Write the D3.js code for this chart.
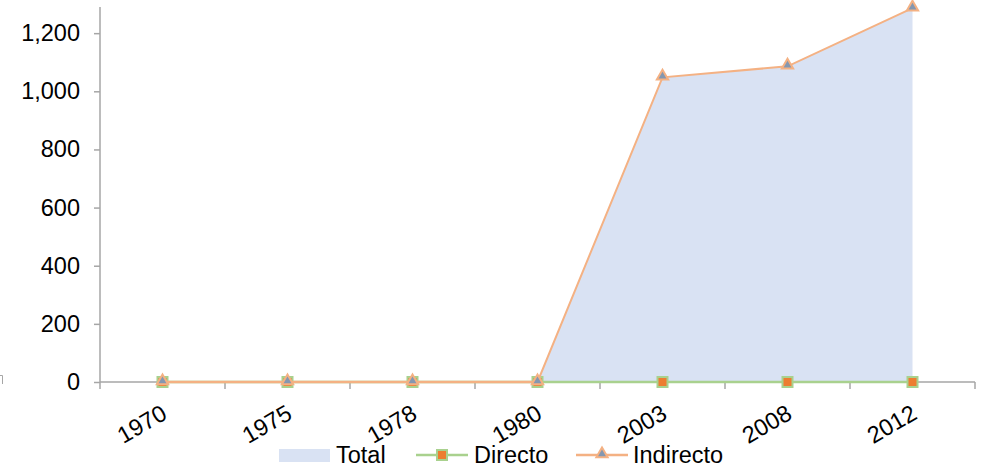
<!DOCTYPE html>
<html>
<head>
<meta charset="utf-8">
<script src="https://cdn.jsdelivr.net/npm/d3@7"></script>
<style>
  html, body { margin: 0; padding: 0; background: #fff; }
  svg text { font-family: "Liberation Sans", Arial, sans-serif; fill: #000; }
</style>
</head>
<body>
<svg id="chart" width="981" height="474"></svg>
<script>
// Years on the category axis
const years = ["1970", "1975", "1978", "1980", "2003", "2008", "2012"];
// Series values
const directo = [0, 0, 0, 0, 0, 0, 0];
const indirecto = [0, 0, 0, 0, 1048, 1086, 1286];
const total = [0, 0, 0, 0, 1048, 1086, 1286];
// Value axis ticks
const yTicks = [0, 200, 400, 600, 800, 1000, 1200];

const svg = d3.select("#chart");
const axisColor = "#a6a6a6";
const fontSize = 23.5;

const x = d3.scaleBand().domain(years).range([100, 975]);
const y = d3.scaleLinear().domain([0, 1290]).range([382, 7]);
const cx = d => x(d) + x.bandwidth() / 2;

// Total as filled area
const area = d3.area()
  .x((d, i) => cx(years[i]))
  .y0(y(0))
  .y1(d => y(d));
svg.append("path")
  .datum(total)
  .attr("d", area)
  .attr("fill", "#d9e2f3");

// Y axis
const yAxis = svg.append("g")
  .attr("transform", "translate(100,0)")
  .call(d3.axisLeft(y).tickValues(yTicks).tickSize(6).tickPadding(14).tickFormat(d3.format(",")));
yAxis.select(".domain").attr("stroke", axisColor).attr("stroke-width", 1.5)
  .attr("d", `M0,${y(1290)}V${y(0)}`);
yAxis.selectAll(".tick line").attr("stroke", axisColor).attr("stroke-width", 1.5);
yAxis.selectAll(".tick text").attr("font-size", fontSize).attr("fill", "#000");

// X axis with ticks at category boundaries
const xAxis = svg.append("g").attr("transform", `translate(0,${y(0)})`);
xAxis.append("line")
  .attr("x1", 100).attr("x2", 975)
  .attr("stroke", axisColor).attr("stroke-width", 1.5);
const bounds = years.map(d => x(d)).concat([x(years[years.length - 1]) + x.bandwidth()]);
xAxis.selectAll("line.tk").data(bounds).enter().append("line")
  .attr("class", "tk")
  .attr("x1", d => d).attr("x2", d => d)
  .attr("y1", 0).attr("y2", 7)
  .attr("stroke", axisColor).attr("stroke-width", 1.5);
xAxis.selectAll("text.lbl").data(years).enter().append("text")
  .attr("class", "lbl")
  .attr("font-size", fontSize)
  .attr("text-anchor", "end")
  .attr("transform", d => `translate(${cx(d) + 6},${36}) rotate(-30)`)
  .text(d => d);

// Lines
const line = d3.line().x((d, i) => cx(years[i])).y(d => y(d));
const green = "#a9d18e", orange = "#f4b183";

svg.append("path").datum(directo).attr("d", line)
  .attr("fill", "none").attr("stroke", green).attr("stroke-width", 2.5);
svg.selectAll("rect.dm").data(directo).enter().append("rect")
  .attr("class", "dm")
  .attr("x", (d, i) => cx(years[i]) - 5).attr("y", d => y(d) - 5)
  .attr("width", 10).attr("height", 10)
  .attr("fill", "#ed7d31").attr("stroke", green).attr("stroke-width", 2);

svg.append("path").datum(indirecto.slice(0, 4)).attr("d", line)
  .attr("fill", "none").attr("stroke", orange).attr("stroke-width", 2.5);
svg.append("path").datum(indirecto).attr("d", line)
  .attr("fill", "none").attr("stroke", orange).attr("stroke-width", 2);
const tri = d3.symbol().type(d3.symbolTriangle).size(55);
svg.selectAll("path.im").data(indirecto).enter().append("path")
  .attr("class", "im")
  .attr("d", tri)
  .attr("transform", (d, i) => `translate(${cx(years[i])},${y(d) - 1})`)
  .attr("fill", "#8497b0").attr("stroke", orange).attr("stroke-width", 2);

// Legend
const lg = svg.append("g").attr("transform", "translate(0,455)");
lg.append("rect").attr("x", 279).attr("y", -6).attr("width", 51).attr("height", 13).attr("fill", "#d9e2f3");
lg.append("text").attr("x", 336).attr("y", 8).attr("font-size", fontSize).text("Total");
lg.append("line").attr("x1", 416).attr("x2", 468).attr("stroke", green).attr("stroke-width", 2.5);
lg.append("rect").attr("x", 437).attr("y", -5).attr("width", 10).attr("height", 10)
  .attr("fill", "#ed7d31").attr("stroke", green).attr("stroke-width", 2);
lg.append("text").attr("x", 474).attr("y", 8).attr("font-size", fontSize).text("Directo");
lg.append("line").attr("x1", 576).attr("x2", 628).attr("stroke", orange).attr("stroke-width", 2.5);
lg.append("path").attr("d", tri).attr("transform", "translate(602,-1)")
  .attr("fill", "#8497b0").attr("stroke", orange).attr("stroke-width", 2);
lg.append("text").attr("x", 633).attr("y", 8).attr("font-size", fontSize).text("Indirecto");

// Small corner mark at the left edge
svg.append("path").attr("d", "M0,375.5H2.5V384")
  .attr("fill", "none").attr("stroke", axisColor).attr("stroke-width", 1);
</script>
</body>
</html>
